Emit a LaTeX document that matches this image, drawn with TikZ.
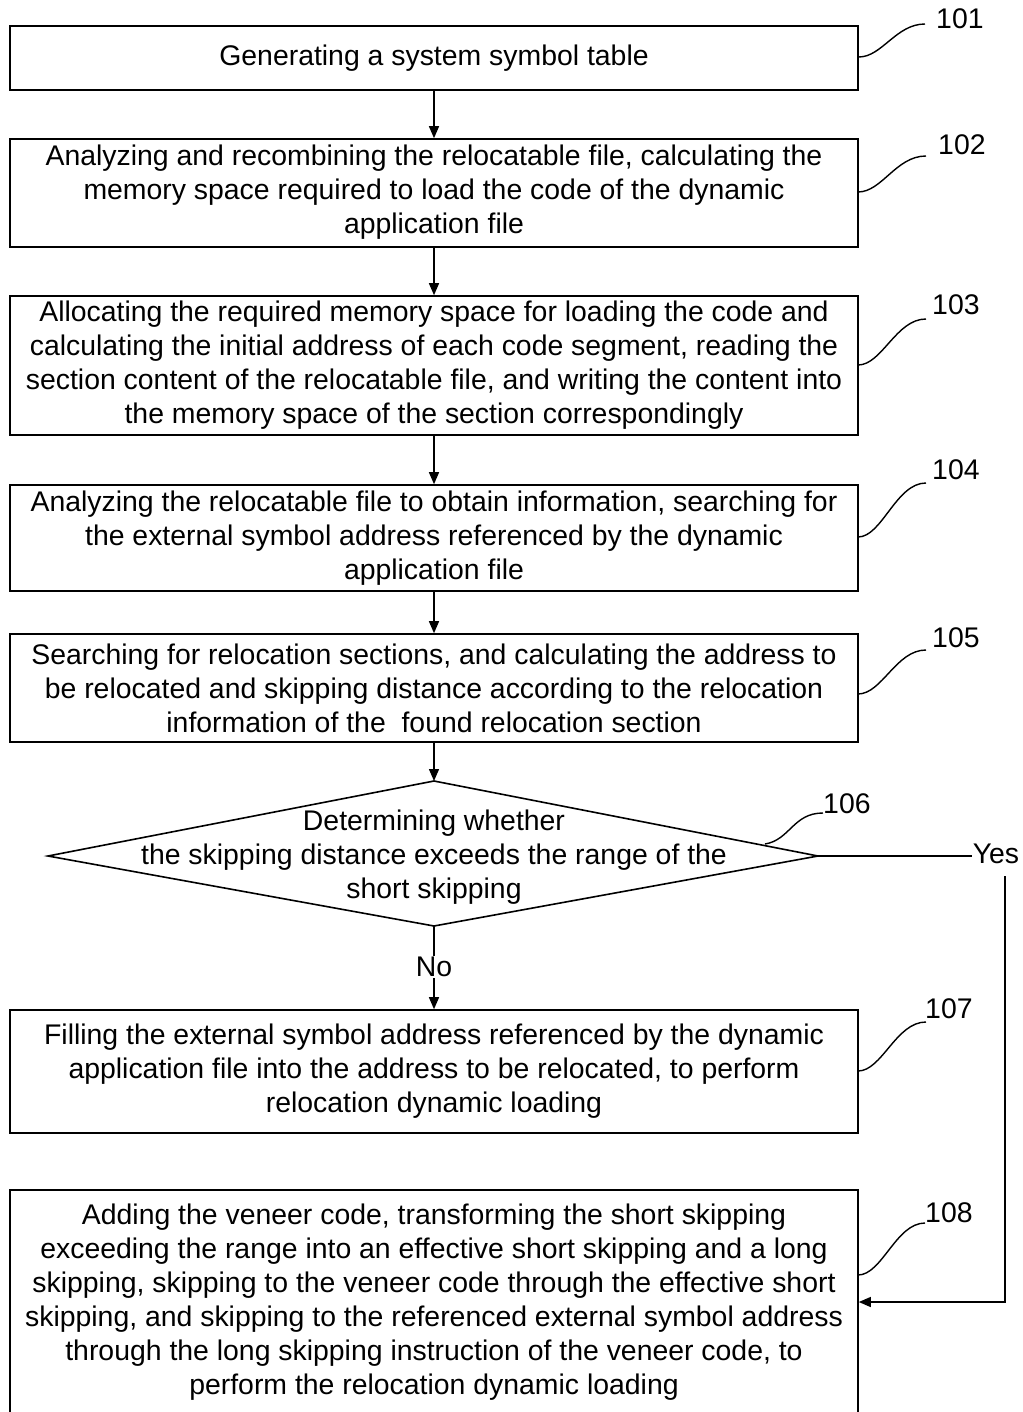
\documentclass[tikz,border=0pt]{standalone}
\usepackage{fontspec}
\setmainfont{Liberation Sans}
\usetikzlibrary{arrows.meta}
\begin{document}
\begin{tikzpicture}[x=1pt,y=-1pt,
  every node/.style={font=\fontsize{28.4}{34}\selectfont},
  stepbox/.style={draw,line width=1.6pt,minimum width=848pt,align=center,inner sep=0pt},
  flow/.style={line width=1.4pt,-{Triangle[length=12pt,width=10pt]}},
  lead/.style={line width=1.4pt},
  lbl/.style={anchor=base west,inner sep=0pt}]
\useasboundingbox (0,0) rectangle (1022,1412);
\clip (0,0) rectangle (1022,1412);
\node[stepbox,minimum height=64pt] (b1) at (434,58) {\raisebox{-2pt}{Generating a system symbol table}};
\node[stepbox,minimum height=108pt] (b2) at (434,193) {\raisebox{-2pt}{\begin{tabular}{@{}c@{}}Analyzing and recombining the relocatable file, calculating the\\memory space required to load the code of the dynamic\\application file\end{tabular}}};
\node[stepbox,minimum height=139pt] (b3) at (434,365.5) {Allocating the required memory space for loading the code and\\calculating the initial address of each code segment, reading the\\section content of the relocatable file, and writing the content into\\the memory space of the section correspondingly};
\node[stepbox,minimum height=106pt] (b4) at (434,538) {Analyzing the relocatable file to obtain information, searching for\\the external symbol address referenced by the dynamic\\application file};
\node[stepbox,minimum height=108pt] (b5) at (434,688) {Searching for relocation sections, and calculating the address to\\be relocated and skipping distance according to the relocation\\information of the\ \ found relocation section};
% diamond
\coordinate (dl) at (48,856);
\coordinate (dt) at (434,781);
\coordinate (dr) at (818,856);
\coordinate (db) at (434,926);
\draw[line width=1.6pt,line join=miter] (dl) -- (dt) -- (dr) -- (db) -- cycle;
\node[align=center,inner sep=0pt] (dtext) at (434,857) {Determining whether\\the skipping distance exceeds the range of the\\short skipping};
\node[stepbox,minimum height=123pt] (b7) at (434,1071.5) {Filling the external symbol address referenced by the dynamic\\application file into the address to be relocated, to perform\\relocation dynamic loading};
\node[stepbox,minimum height=250pt,anchor=north] (b8) at (434,1189) {};
\node[align=center,inner sep=0pt] (t8) at (434,1302) {Adding the veneer code, transforming the short skipping\\exceeding the range into an effective short skipping and a long\\skipping, skipping to the veneer code through the effective short\\skipping, and skipping to the referenced external symbol address\\through the long skipping instruction of the veneer code, to\\perform the relocation dynamic loading};
% arrows
\draw[flow] (b1.south) -- (b2.north);
\draw[flow] (b2.south) -- (b3.north);
\draw[flow] (b3.south) -- (b4.north);
\draw[flow] (b4.south) -- (b5.north);
\draw[flow] (b5.south) -- (dt);
\node[inner sep=1pt] (no) at (434,967) {No};
\draw[lead] (db) -- (no.north);
\draw[flow] (no.south) -- (b7.north);
\node[inner sep=1pt] (yes) at (996,854) {Yes};
\draw[lead] (dr) -- (yes.west |- dr);
\coordinate (yc) at (1005,1302);
\draw[flow] (1005,876) -- (yc) -- (b8.east |- yc);
% labels
\node[lbl] (l1) at (936,29) {101};
\draw[lead] (b1.east |- 0,57) .. controls (882,57) and (896,24) .. (925,24);
\node[lbl] (l2) at (938,155) {102};
\draw[lead] (858,192) .. controls (882,192) and (896,156) .. (926,156);
\node[lbl] (l3) at (932,315) {103};
\draw[lead] (858,365) .. controls (882,365) and (896,319) .. (926,319);
\node[lbl] (l4) at (932,479) {104};
\draw[lead] (858,537) .. controls (882,537) and (896,483) .. (926,483);
\node[lbl] (l5) at (932,647) {105};
\draw[lead] (858,694) .. controls (882,694) and (896,650) .. (926,650);
\node[lbl] (l6) at (823,813) {106};
\draw[lead] (765,844) .. controls (790,840) and (793,813) .. (823,813);
\node[lbl] (l7) at (925,1018) {107};
\draw[lead] (858,1071) .. controls (882,1071) and (896,1022) .. (926,1022);
\node[lbl] (l8) at (925,1222) {108};
\draw[lead] (858,1275) .. controls (882,1275) and (896,1223) .. (925,1223);
\end{tikzpicture}
\end{document}
